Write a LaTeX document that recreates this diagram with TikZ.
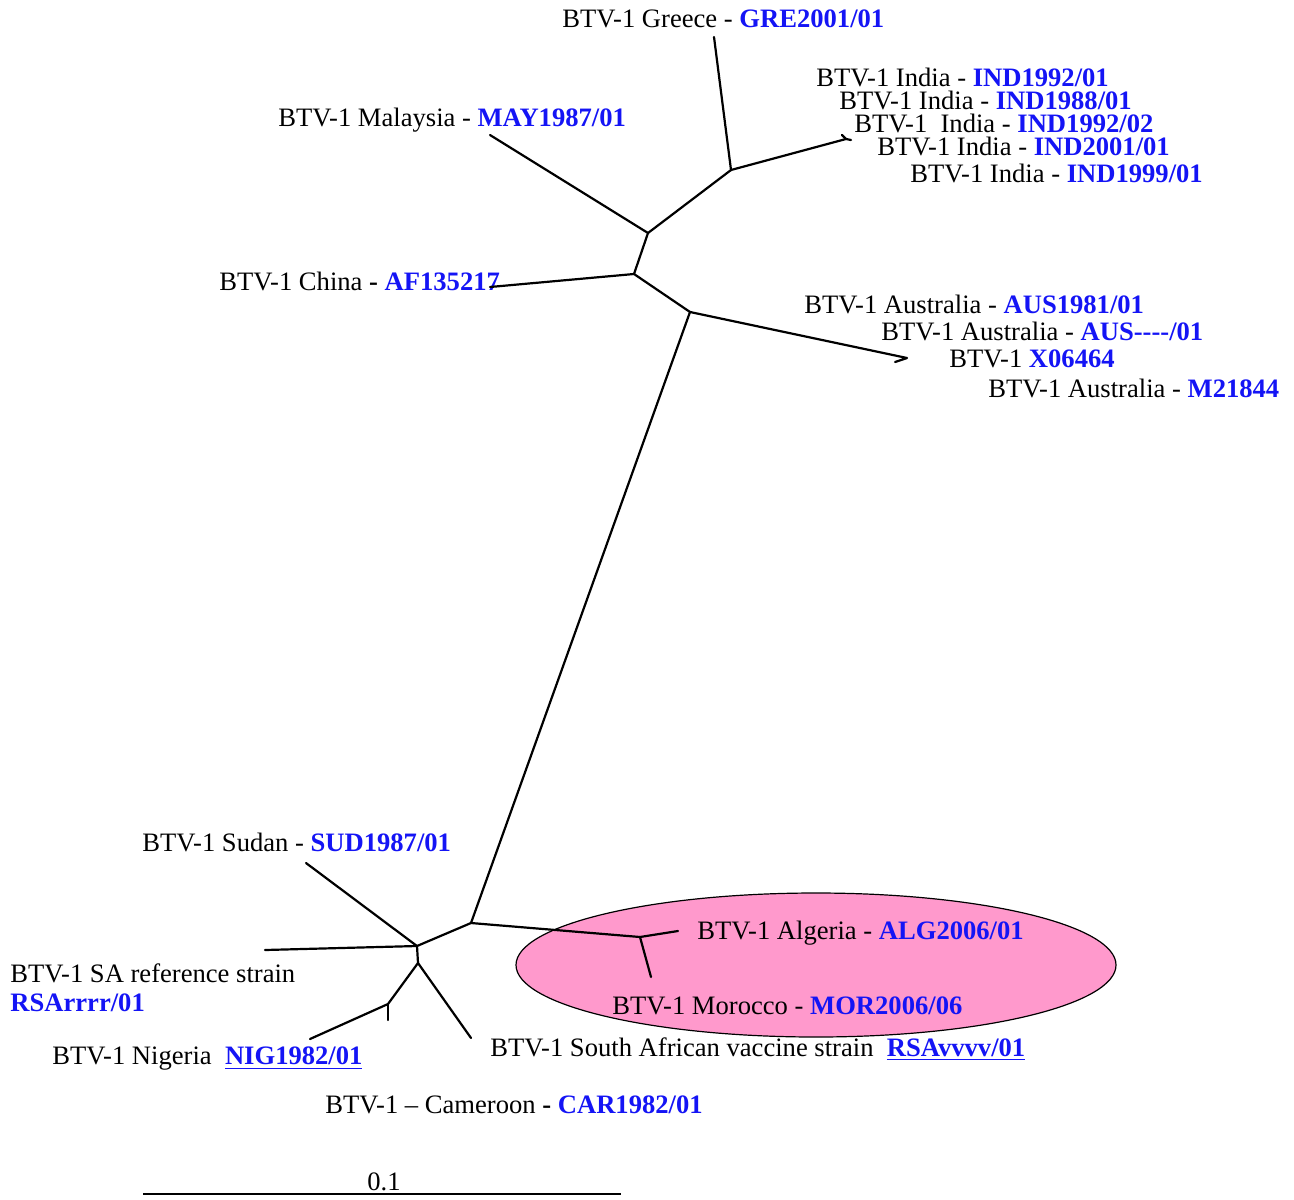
\documentclass[tikz,border=0pt]{standalone}
\usepackage{fontspec}
\setmainfont{Liberation Serif}
\definecolor{acc}{RGB}{20,20,245}
\definecolor{cladefill}{RGB}{255,153,204}
\begin{document}
\begin{tikzpicture}[x=0.5pt,y=-0.5pt,
  branch/.style={line width=1.1pt,line cap=round,line join=round},
  lab/.style={anchor=west,inner sep=0pt,font=\fontsize{13.3}{15}\selectfont}]
\useasboundingbox (0,0) rectangle (1294,1199);

% highlighted North African clade
\draw[fill=cladefill,line width=0.6pt] (816,965) ellipse [x radius=300,y radius=72];

% internal nodes
\coordinate (nGre) at (714,37);
\coordinate (nInd) at (731,170);
\coordinate (nIndTip) at (846,139);
\coordinate (nUp) at (648,233);
\coordinate (nMay) at (490,135);
\coordinate (nChiN) at (634,274);
\coordinate (nChi) at (490,287);
\coordinate (nAusN) at (690,312);
\coordinate (nAusTip) at (907,358);
\coordinate (nLow) at (471,923);
\coordinate (nNA) at (640,937);
\coordinate (nAlg) at (678,931);
\coordinate (nMor) at (651,977);
\coordinate (nBase) at (417,946);
\coordinate (nSud) at (306,863);
\coordinate (nSAR) at (265,950);
\coordinate (nB2) at (418,963);
\coordinate (nNig) at (388,1004);
\coordinate (nNigTip) at (310,1039);
\coordinate (nCam) at (388,1020);
\coordinate (nVac) at (471,1038);

% branches
\draw[branch] (nInd) -- (nGre);
\draw[branch] (nInd) -- (nIndTip) -- (851,140);
\draw[branch] (nIndTip) -- (842,135);
\draw[branch] (nInd) -- (nUp);
\draw[branch] (nUp) -- (nMay);
\draw[branch] (nUp) -- (nChiN);
\draw[branch] (nChiN) -- (nAusN);
\draw[branch] (nAusN) -- (nAusTip) -- (895,362);
\draw[branch] (nAusN) -- (nLow);
\draw[branch] (nLow) -- (nBase);
\draw[branch] (nLow) -- (nNA);
\draw[branch] (nNA) -- (nAlg);
\draw[branch] (nNA) -- (nMor);
\draw[branch] (nBase) -- (nSud);
\draw[branch] (nBase) -- (nSAR);
\draw[branch] (nBase) -- (nB2);
\draw[branch] (nB2) -- (nNig);
\draw[branch] (nB2) -- (nVac);
\draw[branch] (nNig) -- (nNigTip);
\draw[branch] (nNig) -- (nCam);

% leaf labels
\node[lab] (lGre) at (562,19) {BTV-1 Greece - \textcolor{acc}{\bfseries GRE2001/01}};
\node[lab] (lMay) at (278,120) {BTV-1 Malaysia - \textcolor{acc}{\bfseries MAY1987/01}};
\node[lab] (lInd1) at (816,77) {BTV-1 India - \textcolor{acc}{\bfseries IND1992/01}};
\node[lab] (lInd2) at (839,100) {BTV-1 India - \textcolor{acc}{\bfseries IND1988/01}};
\node[lab] (lInd3) at (854,123) {BTV-1 \ India - \textcolor{acc}{\bfseries IND1992/02}};
\node[lab] (lInd4) at (877,146) {BTV-1 India - \textcolor{acc}{\bfseries IND2001/01}};
\node[lab] (lInd5) at (910,173) {BTV-1 India - \textcolor{acc}{\bfseries IND1999/01}};
\node[lab] (lChi) at (219,281) {BTV-1 China \textbf{-} \textcolor{acc}{\bfseries AF135217}};
\node[lab] (lAus1) at (804,304) {BTV-1 Australia - \textcolor{acc}{\bfseries AUS1981/01}};
\node[lab] (lAus2) at (881,331) {BTV-1 Australia - \textcolor{acc}{\bfseries AUS-{}-{}-{}-/01}};
\node[lab] (lAus3) at (949,359) {BTV-1 \textcolor{acc}{\bfseries X06464}};
\node[lab] (lAus4) at (988,388) {BTV-1 Australia - \textcolor{acc}{\bfseries M21844}};
\node[lab] (lSud) at (142,842) {BTV-1 Sudan - \textcolor{acc}{\bfseries SUD1987/01}};
\node[lab] (lSAR) at (10,973) {BTV-1 SA reference strain};
\node[lab] (lSARid) at (10,1003) {\textcolor{acc}{\bfseries RSArrrr/01}};
\node[lab] (lNig) at (52,1059) {BTV-1 Nigeria \ \textcolor{acc}{\bfseries\underline{NIG1982/01}}};
\node[lab] (lCam) at (325,1105) {BTV-1 -- Cameroon \textbf{-} \textcolor{acc}{\bfseries CAR1982/01}};
\node[lab] (lVac) at (490,1049) {BTV-1 South African vaccine strain \ \textcolor{acc}{\bfseries\underline{RSAvvvv/01}}};
\node[lab] (lAlg) at (697,933) {BTV-1 Algeria - \textcolor{acc}{\bfseries ALG2006/01}};
\node[lab] (lMor) at (612,1006) {BTV-1 Morocco - \textcolor{acc}{\bfseries MOR2006/06}};

% China branch runs over the end of its label
\draw[branch] (nChiN) -- (nChi);

% scale bar
\coordinate (sA) at (143,1194);
\coordinate (sB) at (621,1194);
\draw[line width=1.1pt] (sA) -- (sB);
\node[lab,anchor=center] (sLab) at (384,1182) {0.1};
\end{tikzpicture}
\end{document}
